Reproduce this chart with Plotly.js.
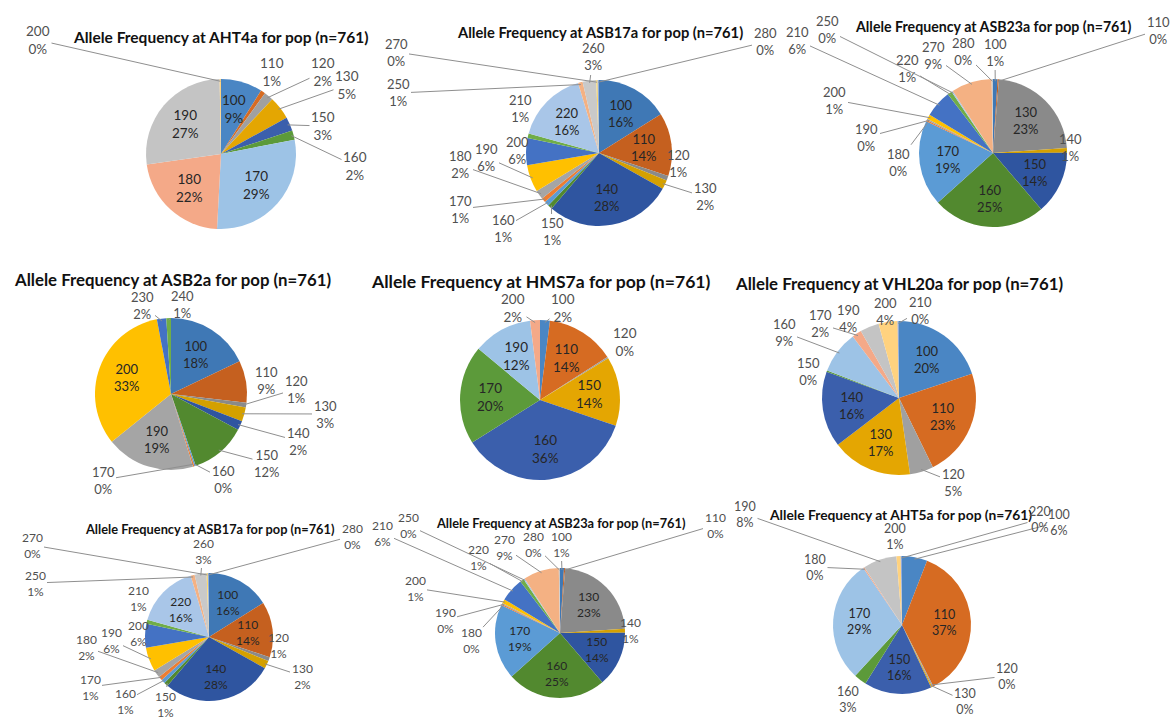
<!DOCTYPE html>
<html><head><meta charset="utf-8">
<script src="https://cdn.plot.ly/plotly-3.0.1.min.js"></script>
<style>html,body{margin:0;padding:0;background:#fff}#chart{width:1173px;height:719px}</style>
</head><body><div id="chart"></div>
<script>
// ---------------- DATA (allele sizes and frequencies in %, "0%" slices estimated as 0.3) ----------------
const aht4aAlleles = ['100','110','120','130','150','160','170','180','190','200'];
const aht4aPct     = [9, 1, 2, 5, 3, 2, 29, 22, 27, 0.3];

const asb17aAlleles = ['100','110','120','130','140','150','160','170','180','190','200','210','220','250','260','270','280'];
const asb17aPct     = [16, 14, 1, 2, 28, 1, 1, 1, 2, 6, 6, 1, 16, 1, 3, 0.3, 0.3];

const asb23aAlleles = ['100','110','130','140','150','160','170','180','190','200','210','220','250','270','280'];
const asb23aPct     = [1, 0.3, 23, 1, 14, 25, 19, 0.3, 0.3, 1, 6, 1, 0.3, 9, 0.3];

const asb2aAlleles = ['100','110','120','130','140','150','160','170','190','200','230','240'];
const asb2aPct     = [18, 9, 1, 3, 2, 12, 0.3, 0.3, 19, 33, 2, 1];

const hms7aAlleles = ['100','110','120','150','160','170','190','200'];
const hms7aPct     = [2, 14, 0.3, 14, 36, 20, 12, 2];

const vhl20aAlleles = ['100','110','120','130','140','150','160','170','190','200','210'];
const vhl20aPct     = [20, 23, 5, 17, 16, 0.3, 9, 2, 4, 4, 0.3];

const aht5aAlleles = ['100','110','120','130','150','160','170','180','190','200','220'];
const aht5aPct     = [6, 37, 0.3, 0.3, 16, 3, 29, 0.3, 8, 1, 0.3];

// ---------------- STYLE ----------------
const W = 1173, H = 719;
const palA = ['#4A86C4','#D66B22','#A0A0A0','#E4A602','#3B5FAC','#5C9A3A','#9DC3E6','#F4A988','#C4C4C4','#FFD27F','#8FAADC','#A9D18E'];
const palB = ['#3F78B5','#C5601F','#8A8A8A','#D4A000','#2F55A0','#52892F','#5B9BD5','#ED7D31','#A5A5A5','#FFC000','#4472C4','#70AD47','#A9C6E8','#F4B183','#C9C9C9','#FFD966','#8FAADC','#A9D18E'];
const FONT = 'Lato, "Open Sans", sans-serif';

// outside label placement (pixel centre of label, 1 = leader line)
const charts = [
 {alleles: aht4aAlleles, values: aht4aPct, title: 'Allele Frequency at AHT4a for pop (n=761)', tx: 221, ty: 37, ts: 15.5,
  cx: 221, cy: 154, r: 75, pal: palA, fs: 13.5,
  out: {'200':[38,40,1],'110':[272,72,0],'120':[323,72,1],'130':[347,85,1],'150':[323,126,1],'160':[355,166,1]}},
 {alleles: asb17aAlleles, values: asb17aPct, title: 'Allele Frequency at ASB17a for pop (n=761)', tx: 600, ty: 32, ts: 14.7,
  cx: 599, cy: 153, r: 73, pal: palB, fs: 13,
  out: {'270':[396,52,1],'250':[398,93,1],'260':[593,57,1],'280':[765,42,1],'210':[520,108,0],'200':[517,150,0],'190':[486,157,1],
        '180':[460,165,1],'170':[460,209,1],'160':[503,228,1],'150':[552,232,1],'120':[678,163,0],'130':[705,197,1]}},
 {alleles: asb23aAlleles, values: asb23aPct, title: 'Allele Frequency at ASB23a for pop (n=761)', tx: 993, ty: 27, ts: 14.2,
  cx: 993, cy: 153, r: 74, pal: palB, fs: 13,
  out: {'110':[1158,30,1],'100':[995,52,1],'280':[963,52,1],'270':[933,56,1],'220':[907,68,1],'250':[827,30,1],'210':[797,40,1],
        '200':[835,100,1],'190':[867,137,1],'180':[898,162,1],'140':[1070,147,0]}},
 {alleles: asb2aAlleles, values: asb2aPct, title: 'Allele Frequency at ASB2a for pop (n=761)', tx: 172, ty: 280, ts: 16.8,
  cx: 171, cy: 394, r: 76, pal: palB, fs: 13,
  out: {'230':[142,305,1],'240':[183,305,1],'110':[266,380,0],'120':[296,389,1],'130':[325,414,1],'140':[298,441,1],
        '150':[267,463,1],'160':[223,479,1],'170':[103,480,1]}},
 {alleles: hms7aAlleles, values: hms7aPct, title: 'Allele Frequency at HMS7a for pop (n=761)', tx: 541, ty: 282, ts: 17.6,
  cx: 540, cy: 400, r: 80, pal: palA, fs: 13.5,
  out: {'200':[513,308,1],'100':[563,308,1],'120':[625,342,0]}},
 {alleles: vhl20aAlleles, values: vhl20aPct, title: 'Allele Frequency at VHL20a for pop (n=761)', tx: 899, ty: 283, ts: 16.8,
  cx: 899, cy: 398, r: 77, pal: palA, fs: 13,
  out: {'210':[920,311,1],'200':[885,311,1],'190':[848,318,0],'170':[820,324,1],'160':[784,332,1],'150':[808,371,0],'120':[953,482,1]}},
 {alleles: asb17aAlleles, values: asb17aPct, title: 'Allele Frequency at ASB17a for pop (n=761)', tx: 210, ty: 529, ts: 12.8,
  cx: 209, cy: 637, r: 64, pal: palB, fs: 12,
  out: {'270':[32,545,1],'250':[35,583,1],'260':[203,551,1],'280':[352,536,1],'210':[138,598,0],'200':[138,633,0],'190':[111,640,1],
        '180':[86,647,1],'170':[90,687,1],'160':[125,701,1],'150':[165,704,1],'120':[278,645,0],'130':[302,676,1]}},
 {alleles: asb23aAlleles, values: asb23aPct, title: 'Allele Frequency at ASB23a for pop (n=761)', tx: 561, ty: 523, ts: 12.8,
  cx: 560, cy: 633, r: 65, pal: palB, fs: 12,
  out: {'110':[715,525,1],'100':[561,544,1],'280':[533,544,1],'270':[504,547,1],'220':[478,557,1],'250':[408,525,1],'210':[382,533,1],
        '200':[415,588,1],'190':[445,620,1],'180':[471,640,1],'140':[630,630,0]}},
 {alleles: aht5aAlleles, values: aht5aPct, title: 'Allele Frequency at AHT5a for pop (n=761)', tx: 900, ty: 514, ts: 13.8,
  cx: 902, cy: 625, r: 69, pal: palA, fs: 12.5,
  out: {'190':[745,514,1],'220':[1040,519,1],'100':[1059,522,1],'200':[895,536,0],'180':[815,567,1],'120':[1007,676,1],
        '130':[965,701,1],'160':[848,699,0]}}
];

const px2x = p => p / W;
const px2y = p => 1 - p / H;

const traces = [];
const annotations = [];

charts.forEach(c => {
  traces.push({
    type: 'pie',
    labels: c.alleles,
    values: c.values,
    sort: false,
    direction: 'clockwise',
    rotation: 0,
    textinfo: 'none',
    hoverinfo: 'label+percent',
    marker: {colors: c.pal.slice(0, c.alleles.length), line: {width: 0}},
    domain: {x: [px2x(c.cx - c.r), px2x(c.cx + c.r)], y: [px2y(c.cy + c.r), px2y(c.cy - c.r)]},
    showlegend: false
  });
  annotations.push({
    text: c.title, x: px2x(c.tx), y: px2y(c.ty), xref: 'paper', yref: 'paper',
    showarrow: false, xanchor: 'center', yanchor: 'middle',
    font: {family: FONT, size: c.ts, color: '#111', weight: 700}
  });
  const total = c.values.reduce((a, b) => a + b, 0);
  let cum = 0;
  c.values.forEach((v, i) => {
    const th = 2 * Math.PI * (cum + v / 2) / total;
    cum += v;
    const lab = c.alleles[i] + '<br>' + Math.round(100 * v / total) + '%';
    const o = c.out[c.alleles[i]];
    if (!o) {
      const ix = c.cx + 0.62 * c.r * Math.sin(th), iy = c.cy - 0.62 * c.r * Math.cos(th);
      annotations.push({text: lab, x: px2x(ix), y: px2y(iy), xref: 'paper', yref: 'paper', showarrow: false,
        xanchor: 'center', yanchor: 'middle', align: 'center', font: {family: FONT, size: c.fs, color: '#262626'}});
    } else if (!o[2]) {
      annotations.push({text: lab, x: px2x(o[0]), y: px2y(o[1]), xref: 'paper', yref: 'paper', showarrow: false,
        xanchor: 'center', yanchor: 'middle', align: 'center', font: {family: FONT, size: c.fs, color: '#505050'}});
    } else {
      const ex = c.cx + 0.97 * c.r * Math.sin(th), ey = c.cy - 0.97 * c.r * Math.cos(th);
      annotations.push({text: lab, x: px2x(ex), y: px2y(ey), xref: 'paper', yref: 'paper',
        showarrow: true, arrowhead: 0, arrowwidth: 1, arrowcolor: '#8f8f8f', standoff: 0,
        ax: o[0] - ex, ay: o[1] - ey, axref: 'pixel', ayref: 'pixel', align: 'center',
        font: {family: FONT, size: c.fs, color: '#505050'}});
    }
  });
});

Plotly.newPlot('chart', traces, {
  width: W, height: H,
  margin: {l: 0, r: 0, t: 0, b: 0},
  paper_bgcolor: '#fff', plot_bgcolor: '#fff',
  showlegend: false,
  annotations: annotations
}, {displayModeBar: false, staticPlot: true});
</script>
</body></html>
